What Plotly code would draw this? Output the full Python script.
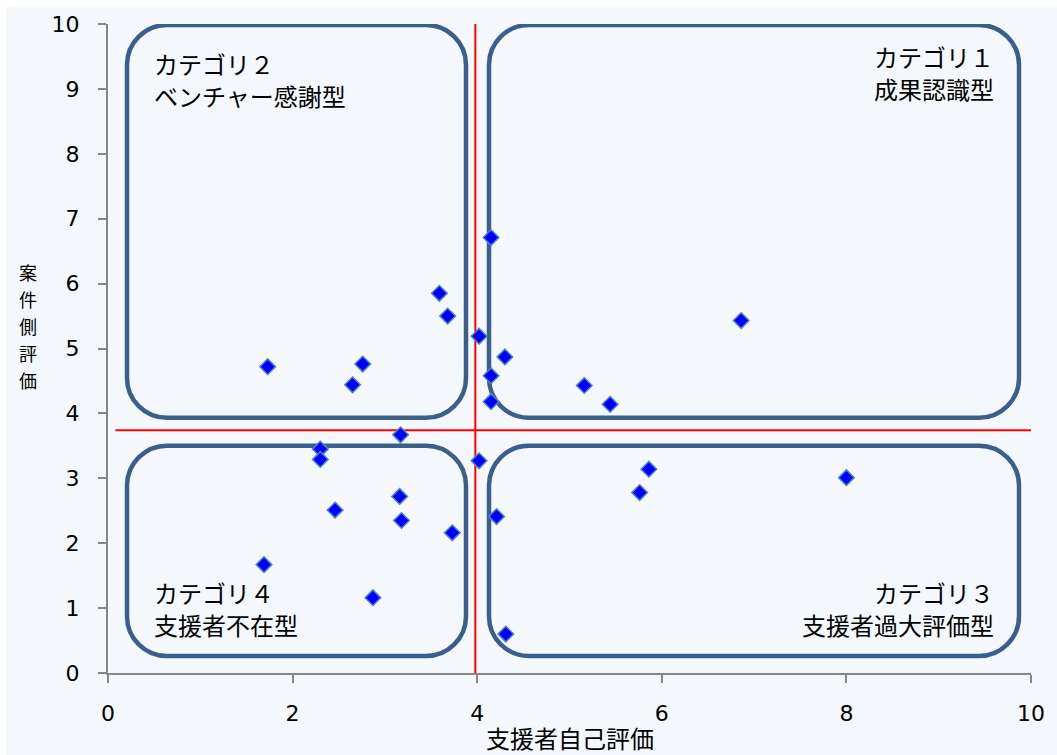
import plotly.graph_objects as go

# Self-evaluation by supporters (x) vs. evaluation by the project side (y)
self_eval = [1.69, 1.73, 2.30, 2.30, 2.46, 2.65, 2.76, 2.87, 3.16, 3.18, 3.17,
             3.59, 3.68, 3.73, 4.02, 4.02, 4.15, 4.15, 4.15, 4.30, 4.21, 4.31,
             5.16, 5.44, 5.76, 5.86, 6.86, 8.00]
case_eval = [1.67, 4.72, 3.45, 3.29, 2.51, 4.44, 4.76, 1.16, 2.72, 2.35, 3.67,
             5.85, 5.50, 2.16, 5.19, 3.27, 6.71, 4.58, 4.18, 4.87, 2.41, 0.60,
             4.43, 4.14, 2.78, 3.14, 5.43, 3.01]

# Reference lines dividing the quadrants
split_x = 3.98
split_y = 3.74

x_ticks = [0, 2, 4, 6, 8, 10]
y_ticks = [0, 1, 2, 3, 4, 5, 6, 7, 8, 9, 10]

category_titles = ["カテゴリ２", "カテゴリ１", "カテゴリ４", "カテゴリ３"]
category_names = ["ベンチャー感謝型", "成果認識型", "支援者不在型", "支援者過大評価型"]

x_title = "支援者自己評価"
y_title = "案件側評価"

BG = "#f4f8fc"
AXIS = "#868686"
BOX = "#3b5f8b"
FONT_NUM = "DejaVu Sans"
FONT_JP = "Noto Sans CJK JP"

# Plot area geometry (pixels) used to keep box corners circular
W, H = 1057, 755
ML, MR, MT, MB = 108, 26, 22, 82
PW, PH = W - ML - MR, H - MT - MB
PX_X = PW / 10.0
PX_Y = PH / 10.0


def rounded_rect(x0, y0, x1, y1, r_px=40):
    rx, ry = r_px / PX_X, r_px / PX_Y
    k = 0.5523
    return (
        f"M {x0 + rx},{y1} L {x1 - rx},{y1} "
        f"C {x1 - rx + k * rx},{y1} {x1},{y1 - ry + k * ry} {x1},{y1 - ry} "
        f"L {x1},{y0 + ry} "
        f"C {x1},{y0 + ry - k * ry} {x1 - rx + k * rx},{y0} {x1 - rx},{y0} "
        f"L {x0 + rx},{y0} "
        f"C {x0 + rx - k * rx},{y0} {x0},{y0 + ry - k * ry} {x0},{y0 + ry} "
        f"L {x0},{y1 - ry} "
        f"C {x0},{y1 - ry + k * ry} {x0 + rx - k * rx},{y1} {x0 + rx},{y1} Z"
    )


def px_to_x(px):
    return (px - ML) / PX_X


def px_to_y(py):
    return (H - MB - py) / PX_Y


def paper_x(px):
    return (px - ML) / PW


def paper_y(py):
    return (H - MB - py) / PH


left_x0, left_x1 = px_to_x(127), px_to_x(466)
right_x0, right_x1 = px_to_x(489), px_to_x(1019)
top_y0, top_y1 = px_to_y(417), px_to_y(23)
bot_y0, bot_y1 = px_to_y(656), px_to_y(445)

fig = go.Figure()

fig.add_trace(go.Scatter(
    x=[split_x, split_x], y=[0, 10], mode="lines",
    line=dict(color="#ff0000", width=2), hoverinfo="skip", showlegend=False,
))
fig.add_trace(go.Scatter(
    x=[0.08, 10], y=[split_y, split_y], mode="lines",
    line=dict(color="#ff0000", width=2), hoverinfo="skip", showlegend=False,
))
fig.add_trace(go.Scatter(
    x=self_eval, y=case_eval, mode="markers",
    marker=dict(symbol="diamond", size=12, color="#0000ff",
                line=dict(color="#4f81bd", width=1.5)),
    showlegend=False, cliponaxis=False,
))

shapes = [
    dict(type="rect", xref="paper", yref="paper",
         x0=paper_x(6), x1=paper_x(W) + 0.01,
         y0=paper_y(H) - 0.01, y1=paper_y(5),
         fillcolor=BG, line=dict(width=0), layer="below"),
]
for (x0, x1, y0, y1) in [
    (left_x0, left_x1, top_y0, top_y1),
    (right_x0, right_x1, top_y0, top_y1),
    (left_x0, left_x1, bot_y0, bot_y1),
    (right_x0, right_x1, bot_y0, bot_y1),
]:
    shapes.append(dict(type="path", xref="x", yref="y",
                       path=rounded_rect(x0, y0, x1, y1),
                       line=dict(color=BOX, width=4.5), layer="below"))

label_font = dict(family=FONT_JP, size=24, color="#000000")
# (x pixel, anchor, first line centre, second line centre) for each category
label_pos = [
    (152, "left", 62, 94),
    (996, "right", 55, 87),
    (152, "left", 592, 624),
    (996, "right", 592, 624),
]

annotations = []
for title, name, (lx, anchor, cy1, cy2) in zip(category_titles, category_names, label_pos):
    for txt, cy in ((title, cy1), (name, cy2)):
        annotations.append(dict(
            x=paper_x(lx), y=paper_y(cy), xref="paper", yref="paper",
            text=txt, xanchor=anchor, yanchor="middle", align=anchor,
            showarrow=False, font=label_font))

# Vertical y-axis title, one upright character per row
for i, ch in enumerate(y_title):
    annotations.append(dict(
        x=paper_x(28), y=paper_y(271 + 27 * i), xref="paper", yref="paper",
        text=ch, xanchor="center", yanchor="middle", showarrow=False,
        borderpad=0, font=dict(family=FONT_JP, size=18, color="#000000")))

annotations.append(dict(
    x=paper_x(570), y=paper_y(738), xref="paper", yref="paper",
    text=x_title, xanchor="center", yanchor="middle", showarrow=False,
    font=dict(family=FONT_JP, size=24, color="#000000")))

axis_common = dict(
    range=[0, 10], showgrid=False, zeroline=False, showline=True,
    linecolor=AXIS, linewidth=2, ticks="outside", ticklen=8, tickwidth=2,
    tickcolor=AXIS, tickfont=dict(family=FONT_NUM, size=22, color="#000000"),
)

fig.update_layout(
    width=W, height=H,
    margin=dict(l=ML, r=MR, t=MT, b=MB),
    paper_bgcolor="#ffffff",
    plot_bgcolor="rgba(0,0,0,0)",
    shapes=shapes,
    annotations=annotations,
    xaxis=dict(tickvals=x_ticks, ticktext=[str(v) for v in x_ticks],
               ticklabelstandoff=12, **axis_common),
    yaxis=dict(tickvals=y_ticks, ticktext=[str(v) for v in y_ticks],
               ticklabelstandoff=14, **axis_common),
)

fig.write_html("out.html")
